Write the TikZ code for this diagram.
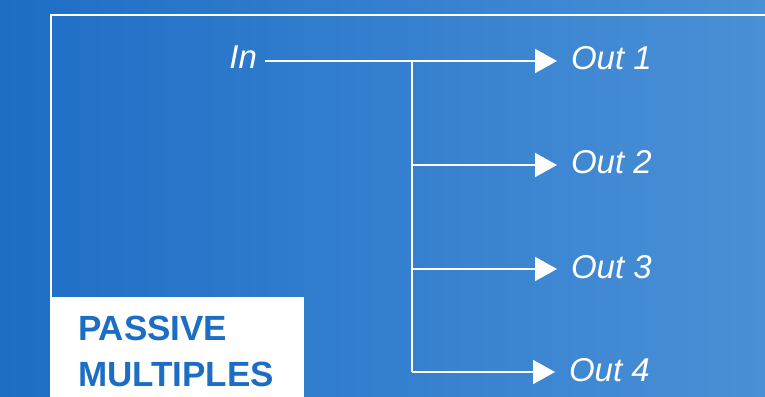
\documentclass[tikz,border=0pt]{standalone}
\usepackage{fontspec}
\setmainfont{Liberation Sans}
\usetikzlibrary{arrows.meta}
\definecolor{bgleft}{RGB}{30,110,198}
\definecolor{bgright}{RGB}{74,144,214}
\definecolor{titleblue}{RGB}{28,110,196}
\tikzset{
  wire/.style={white, line width=2pt},
  arr/.style={wire, -{Triangle[length=22pt,width=24pt]}, shorten >=14pt},
  lab/.style={text=white, font=\fontsize{33}{38}\selectfont\itshape, inner sep=0pt, outer sep=0pt},
  title/.style={text=titleblue, font=\fontsize{35}{46}\selectfont\bfseries, align=left, inner sep=0pt},
}
\begin{document}
\begin{tikzpicture}[x=1pt, y=-1pt]
  \useasboundingbox (0,0) rectangle (765,396);
  % background
  \shade[left color=bgleft, right color=bgright] (0,0) rectangle (765,396);
  % frame
  \draw[wire] (770,15) -- (51,15) -- (51,400);
  % label box
  \fill[white] (52,297) rectangle (304,400);
  \node[title, anchor=base west] (ttl) at (78,386) {PASSIVE\\MULTIPLES};
  % junctions
  \coordinate (j1) at (412,61);
  \coordinate (j2) at (412,165);
  \coordinate (j3) at (412,269);
  \coordinate (j4) at (412,372);
  % labels
  \node[lab, anchor=base east] (in) at (257,69) {In};
  \node[lab, anchor=base west] (o1) at (571,70) {Out 1};
  \node[lab, anchor=base west] (o2) at (571,173) {Out 2};
  \node[lab, anchor=base west] (o3) at (571,278) {Out 3};
  \node[lab, anchor=base west] (o4) at (569,381) {Out 4};
  % wiring
  \draw[wire] ([xshift=8pt]in.east |- j1) -- (j1);
  \draw[wire] (j1) -- (j4);
  \draw[arr] (j1) -- (o1.west |- j1);
  \draw[arr] (j2) -- (o2.west |- j2);
  \draw[arr] (j3) -- (o3.west |- j3);
  \draw[arr] (j4) -- (o4.west |- j4);
\end{tikzpicture}
\end{document}
